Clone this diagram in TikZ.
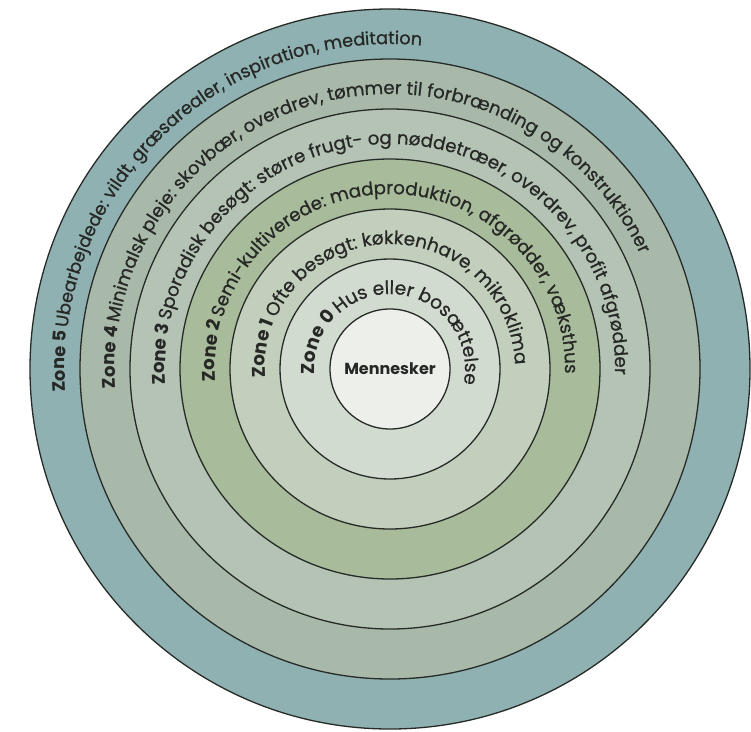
\documentclass[tikz,border=0pt]{standalone}
\usepackage{fontspec}
\setmainfont{Poppins}
\usetikzlibrary{decorations.text}
\definecolor{cfive}{HTML}{90B1B2}
\definecolor{cfour}{HTML}{A8B9A9}
\definecolor{cthree}{HTML}{B4C3B4}
\definecolor{ctwo}{HTML}{A8BB9A}
\definecolor{cone}{HTML}{C3CFBD}
\definecolor{czero}{HTML}{D2DBCF}
\definecolor{ccore}{HTML}{ECEFEA}
\definecolor{ringline}{HTML}{262B27}
\definecolor{txt}{HTML}{262826}
\newcommand\zf[1]{\fontsize{#1}{20}\selectfont\color{txt}\addfontfeature{FakeBold=0.6}}
\newcommand\zb[1]{\fontsize{#1}{20}\selectfont\color{txt}\bfseries}
\begin{document}
\begin{tikzpicture}[x=1pt,y=1pt,
  ring/.style={draw=ringline, line width=1.3pt},
  zonetext/.style={decorate, decoration={text along path, text align=left, text={#1}}}]
\useasboundingbox (0,0) rectangle (751,-731);
\coordinate (c) at (390,-369);
% filled rings
\fill[cfive]  (c) circle[radius=360];
\fill[cfour]  (c) circle[radius=310];
\fill[cthree] (c) circle[radius=260];
\fill[ctwo]   (c) circle[radius=210];
\fill[cone]   (c) circle[radius=160];
\fill[czero]  (c) circle[radius=110];
\fill[ccore]  (c) circle[radius=60];
% ring lines
\foreach \r in {360,310,260,210,160,110,60}
  \draw[ring] (c) circle[radius=\r];
% center
\node[font=\fontsize{16}{18}\selectfont\bfseries, text=txt] (core) at (c) {Mennesker};
% zone texts
\path[zonetext={|\zb{17.8}|Zone 5 |\zf{17.8}|Ubearbejdede: vildt, græsarealer, inspiration, meditation}]
  (c) ++(184:325) arc[start angle=184, end angle=-40, radius=325];
\path[zonetext={|\zb{18.1}|Zone 4 |\zf{18.1}|Minimalsk pleje: skovbær, overdrev, tømmer til forbrænding og konstruktioner}]
  (c) ++(184:275) arc[start angle=184, end angle=-60, radius=275];
\path[zonetext={|\zb{18.2}|Zone 3 |\zf{18.2}|Sporadisk besøgt: større frugt- og nøddetræer, overdrev, profit afgrødder}]
  (c) ++(184:225) arc[start angle=184, end angle=-80, radius=225];
\path[zonetext={|\zb{18.2}|Zone 2 |\zf{18.2}|Semi-kultiverede: madproduktion, afgrødder, væksthus}]
  (c) ++(184:175) arc[start angle=184, end angle=-80, radius=175];
\path[zonetext={|\zb{18.4}|Zone 1 |\zf{18.4}|Ofte besøgt: køkkenhave, mikroklima}]
  (c) ++(184:125) arc[start angle=184, end angle=-80, radius=125];
\path[zonetext={|\zb{18.6}|Zone 0 |\zf{18.6}|Hus eller bosættelse}]
  (c) ++(184:75) arc[start angle=184, end angle=-80, radius=75];
\end{tikzpicture}
\end{document}
